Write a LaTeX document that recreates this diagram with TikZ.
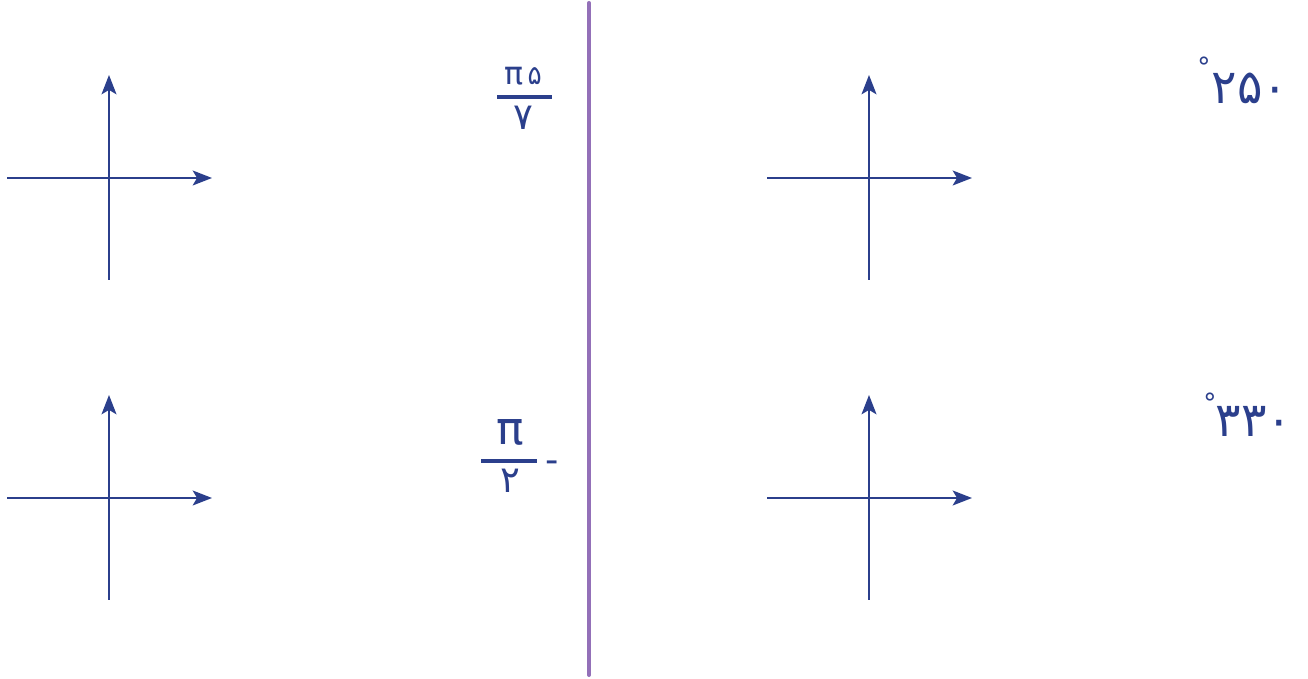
\documentclass[tikz,border=0pt]{standalone}
\usepackage{fontspec}
\usepackage{tikz}
\usepackage{xcolor}
\usetikzlibrary{arrows.meta}
\newfontfamily\farsifont{DejaVu Sans}
\definecolor{axisblue}{HTML}{2B3F8C}
\definecolor{splitpurple}{HTML}{9370B8}
\newcommand{\bigdigit}[1]{{\fontsize{21}{24}\selectfont #1}}

\begin{document}
\begin{tikzpicture}[
    axis/.style={line width=1.1pt, draw=axisblue, -{Stealth[length=11pt, width=8.5pt, inset=2.5pt]}},
    label/.style={text=axisblue, font=\farsifont\fontsize{15}{18}\selectfont, inner sep=0pt},
    anglelabel/.style={text=axisblue, font=\farsifont\fontsize{27}{30}\selectfont, inner sep=0pt},
    degmark/.style={text=axisblue, font=\farsifont\fontsize{15}{18}\selectfont, inner sep=0pt},
    fracbar/.style={line width=2.3pt, draw=axisblue}
  ]
  \useasboundingbox (0,0) rectangle (26.16,13.58);

  % Divider
  \coordinate (divtop) at (11.78,13.52);
  \coordinate (divbot) at (11.78,0.08);
  \draw[line width=2.3pt, draw=splitpurple, line cap=round] (divtop) -- (divbot);

  % Axes
  \foreach \name/\x/\y in {lt/2.18/10.02, lb/2.18/3.62, rt/17.38/10.02, rb/17.38/3.62} {
    \coordinate (\name) at (\x,\y);
    \draw[axis] ([xshift=-2.04cm]\name) -- ([xshift=2.06cm]\name);
    \draw[axis] ([yshift=-2.04cm]\name) -- ([yshift=2.06cm]\name);
  }

  % Left labels
  \node[label] (numA) at (10.46,12.06) {{\fontsize{18}{20}\selectfont π}\,۵};
  \node[label] (denA) at (10.46,11.22) {\bigdigit{۷}};
  \draw[fracbar] (9.94,11.64) -- (11.04,11.64);

  \node[label] (numB) at (10.20,4.94) {{\fontsize{26}{28}\selectfont π}};
  \node[label] (denB) at (10.20,3.96) {\bigdigit{۲}};
  \draw[fracbar] (9.62,4.36) -- (10.74,4.36);
  \node[label] (minusB) at (11.04,4.24) {\bigdigit{-}};

  % Right labels
  \node[anglelabel] (valA) at (25.00,11.82) {۲۵۰};
  \node[degmark] (degA) at (24.08,12.24) {°};
  \node[anglelabel] (valB) at (25.08,5.16) {۳۳۰};
  \node[degmark] (degB) at (24.20,5.52) {°};
\end{tikzpicture}
\end{document}
